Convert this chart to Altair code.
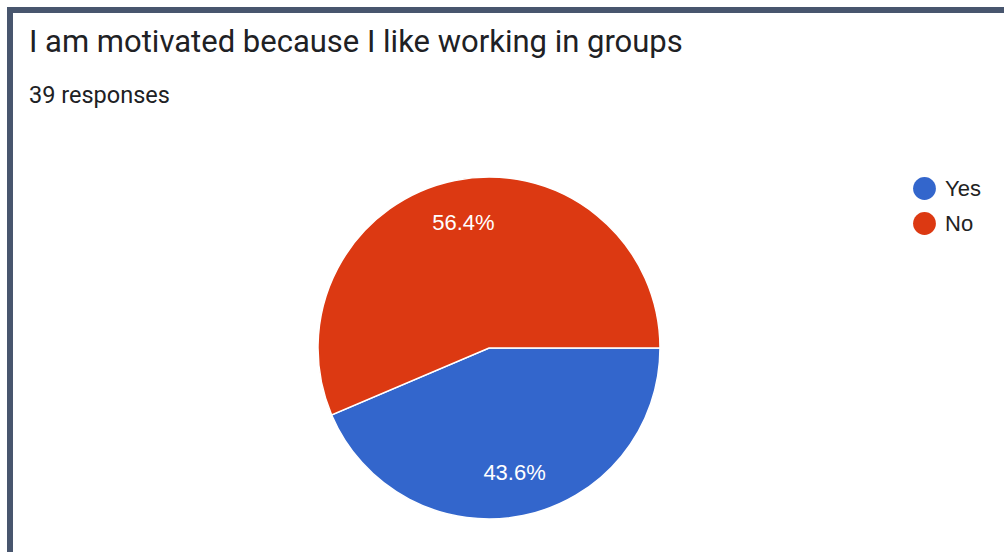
import math
import altair as alt
import pandas as pd

answers = ["Yes", "No"]
shares = [43.6, 56.4]
labels = ["43.6%", "56.4%"]
colors = ["#3366cc", "#dc3912"]
title_text = "I am motivated because I like working in groups"
subtitle_text = "39 responses"

df = pd.DataFrame({"answer": answers, "share": shares, "label": labels, "order": [0, 1]})

W, H = 1004, 552
CX, CY, R = 489, 348, 171

theta = alt.Theta("share:Q", stack=True,
                  scale=alt.Scale(range=[math.pi / 2, math.pi / 2 + 2 * math.pi]))
color = alt.Color("answer:N", sort=answers,
                  scale=alt.Scale(domain=answers, range=colors),
                  legend=alt.Legend(title=None, orient="none", legendX=913, legendY=177,
                                    symbolType="circle", symbolSize=520,
                                    symbolStrokeWidth=0, labelFontSize=22,
                                    labelFont="Liberation Sans", labelColor="#222222",
                                    rowPadding=12, labelOffset=9))

base = alt.Chart(df).encode(theta=theta, order=alt.Order("order:Q"))

pie = base.mark_arc(radius=R, stroke="white", strokeWidth=1.5).encode(
    color=color, x=alt.value(CX), y=alt.value(CY))

txt = base.mark_text(radius=128, fontSize=22, font="Liberation Sans",
                     color="white").encode(text="label:N", x=alt.value(CX), y=alt.value(CY))

tdf = pd.DataFrame({"t": [title_text]})
sdf = pd.DataFrame({"t": [subtitle_text]})
title = alt.Chart(tdf).mark_text(align="left", baseline="alphabetic", fontSize=31,
                                 font="Roboto", color="#202124").encode(
    text="t:N", x=alt.value(29), y=alt.value(52))
subtitle = alt.Chart(sdf).mark_text(align="left", baseline="alphabetic", fontSize=23.5,
                                    font="Roboto", color="#202124").encode(
    text="t:N", x=alt.value(29), y=alt.value(103))

border_top = alt.Chart(tdf).mark_rule(color="#48566e", strokeWidth=6).encode(
    x=alt.value(7), x2=alt.value(W), y=alt.value(10))
border_left = alt.Chart(tdf).mark_rule(color="#48566e", strokeWidth=6).encode(
    x=alt.value(10), y=alt.value(7), y2=alt.value(H))

chart = alt.layer(pie, txt, title, subtitle, border_top, border_left).properties(
    width=W, height=H, autosize=alt.AutoSizeParams(type="none"), padding=0,
    background="white"
).configure_view(stroke=None)

chart.save("out.html", embed_options={"renderer": "svg", "actions": False})
